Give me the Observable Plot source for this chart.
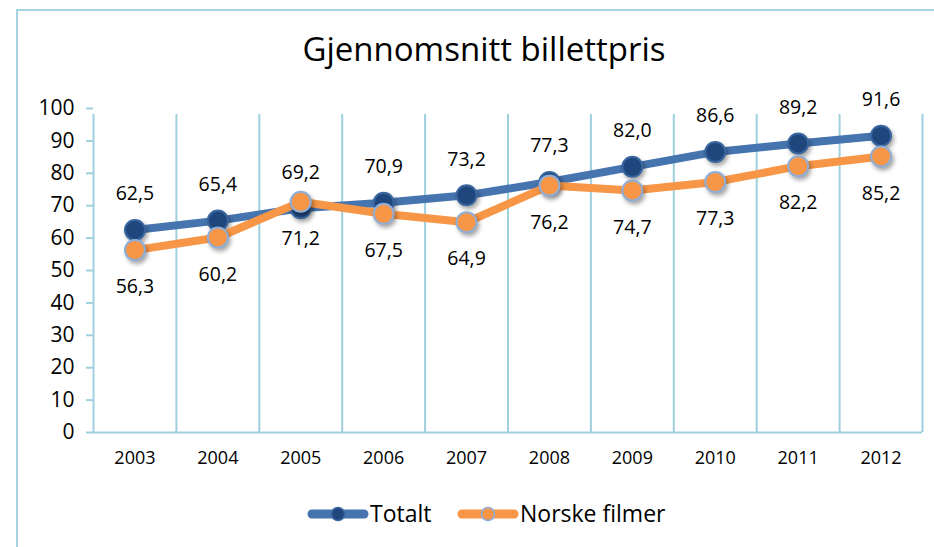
<!DOCTYPE html>
<html>
<head>
<meta charset="utf-8">
<script src="https://cdn.jsdelivr.net/npm/d3@7"></script>
<script src="https://cdn.jsdelivr.net/npm/@observablehq/plot@0.6"></script>
<style>
  html, body { margin: 0; padding: 0; background: #fff; }
  #wrap { position: relative; width: 934px; height: 547px; overflow: hidden; font-family: "Open Sans", sans-serif; }
  #frame { position: absolute; left: 16px; top: 9px; width: 1000px; height: 600px; border-left: 2px solid #a6d3e1; border-top: 2px solid #a6d3e1; box-sizing: border-box; }
  #title { position: absolute; left: 0; width: 968px; top: 26px; text-align: center; font-size: 33px; color: #000; }
  #plot { position: absolute; left: 0; top: 80px; }
  #legend { position: absolute; left: 0; top: 490px; }
</style>
</head>
<body>
<div id="wrap">
  <div id="frame"></div>
  <div id="title">Gjennomsnitt billettpris</div>
  <div id="plot"></div>
  <svg id="legend" width="934" height="50"></svg>
</div>
<script>
const years = [2003, 2004, 2005, 2006, 2007, 2008, 2009, 2010, 2011, 2012];
const totalt = [62.5, 65.4, 69.2, 70.9, 73.2, 77.3, 82.0, 86.6, 89.2, 91.6];
const norske = [56.3, 60.2, 71.2, 67.5, 64.9, 76.2, 74.7, 77.3, 82.2, 85.2];
const yTicks = [0, 10, 20, 30, 40, 50, 60, 70, 80, 90, 100];
const seriesNames = ["Totalt", "Norske filmer"];

const fmt = v => v.toFixed(1).replace(".", ",");
const dataT = years.map((y, i) => ({year: y, value: totalt[i]}));
const dataN = years.map((y, i) => ({year: y, value: norske[i]}));
const bounds = d3.range(years.length + 1).map(i => years[0] - 0.5 + i);

const grid = "#9fd0de";
const blueLine = "#4674ae", blueDot = "#1f467d", blueDotStroke = "#3a66a0";
const orange = "#f79646", orangeStroke = "#8eaed8";
const shadow = "drop-shadow(2px 3px 2px rgba(0,0,0,0.35))";

const chart = Plot.plot({
  width: 934,
  height: 400,
  marginTop: 28,
  marginLeft: 93,
  marginRight: 12,
  marginBottom: 48,
  x: {domain: [years[0] - 0.5, years[years.length - 1] + 0.5]},
  y: {domain: [0, 100]},
  style: {fontFamily: "Open Sans, sans-serif", color: "#000", background: "transparent"},
  marks: [
    Plot.ruleX(bounds, {y1: 0, y2: 100, stroke: grid, strokeWidth: 2, insetBottom: -6}),
    Plot.ruleY([0], {stroke: grid, strokeWidth: 2}),
    Plot.axisY({ticks: yTicks, tickSize: 7, tickPadding: 12, stroke: grid, strokeWidth: 2, strokeOpacity: 1, fontSize: 21, label: null, fill: "#000"}),
    Plot.axisX({ticks: years, tickFormat: d => String(d), tickSize: 0, tickPadding: 19, fontSize: 18, label: null, fill: "#000"}),
    Plot.line(dataT, {x: "year", y: "value", stroke: blueLine, strokeWidth: 8, strokeLinecap: "round", strokeLinejoin: "round"}),
    Plot.dot(dataT, {x: "year", y: "value", r: 10, fill: blueDot, stroke: blueDotStroke, strokeWidth: 2}),
    Plot.line(dataN, {x: "year", y: "value", stroke: orange, strokeWidth: 8, strokeLinecap: "round", strokeLinejoin: "round"}),
    Plot.dot(dataN, {x: "year", y: "value", r: 10, fill: orange, stroke: orangeStroke, strokeWidth: 2}),
    Plot.text(dataT, {x: "year", y: "value", text: d => fmt(d.value), dy: -36, fontSize: 19.5, fill: "#000"}),
    Plot.text(dataN, {x: "year", y: "value", text: d => fmt(d.value), dy: 37, fontSize: 19.5, fill: "#000"})
  ]
});
chart.querySelectorAll("circle").forEach(c => { c.style.filter = shadow; });
document.getElementById("plot").appendChild(chart);

// legend
const lg = d3.select("#legend");
const items = [
  {name: seriesNames[0], x0: 308, line: blueLine, fill: blueDot, stroke: blueDotStroke},
  {name: seriesNames[1], x0: 458, line: orange, fill: orange, stroke: orangeStroke}
];
items.forEach(it => {
  lg.append("line").attr("x1", it.x0 + 4).attr("x2", it.x0 + 56).attr("y1", 24).attr("y2", 24)
    .attr("stroke", it.line).attr("stroke-width", 9).attr("stroke-linecap", "round");
  lg.append("circle").attr("cx", it.x0 + 30).attr("cy", 24).attr("r", 6.5)
    .attr("fill", it.fill).attr("stroke", it.stroke).attr("stroke-width", 1.5);
  lg.append("text").attr("x", it.x0 + 62).attr("y", 24).attr("dy", "0.35em")
    .attr("font-family", "Open Sans, sans-serif").attr("font-size", 23).attr("fill", "#000").text(it.name);
});
</script>
</body>
</html>
